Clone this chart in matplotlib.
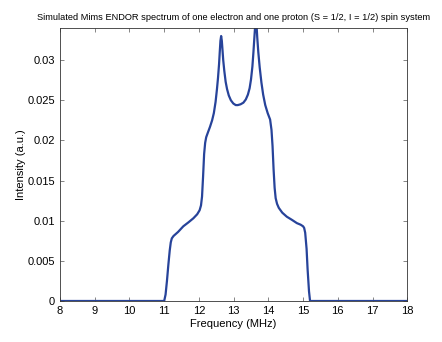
import matplotlib
matplotlib.use("Agg")
import matplotlib.pyplot as plt
from matplotlib.ticker import FuncFormatter

plt.rcParams['font.family'] = ['Liberation Sans', 'DejaVu Sans']

# Mims ENDOR powder spectrum, S = 1/2, I = 1/2 (frequency in MHz, intensity in a.u.)
freq = [8.0, 10.9, 11.0, 11.04, 11.08, 11.12, 11.16, 11.19, 11.22, 11.27, 11.4, 11.55,
        11.7, 11.84, 11.95, 12.02, 12.06, 12.09, 12.12, 12.15, 12.18, 12.21, 12.26,
        12.32, 12.38, 12.43, 12.48, 12.52, 12.55, 12.58, 12.6, 12.62, 12.64, 12.66,
        12.68, 12.7, 12.73, 12.77, 12.81, 12.86, 12.92, 12.99, 13.06, 13.12, 13.2,
        13.28, 13.35, 13.41, 13.46, 13.5, 13.54, 13.57, 13.6, 13.62, 13.64, 13.66,
        13.68, 13.71, 13.75, 13.8, 13.85, 13.91, 13.98, 14.05, 14.09, 14.12, 14.15,
        14.18, 14.21, 14.25, 14.3, 14.4, 14.53, 14.68, 14.82, 14.93, 15.0, 15.03,
        15.06, 15.1, 15.13, 15.17, 15.2, 15.25, 18.0]
intensity = [0.0, 0.0, 0.0, 0.0008, 0.0025, 0.0045, 0.0063, 0.0073, 0.0078, 0.0081,
             0.0086, 0.0093, 0.0098, 0.0103, 0.0108, 0.0113, 0.0119, 0.0130, 0.0155,
             0.0183, 0.0197, 0.0204, 0.0210, 0.0217, 0.0225, 0.0234, 0.0248, 0.0264,
             0.0278, 0.0295, 0.0310, 0.0324, 0.0330, 0.0324, 0.0312, 0.0300, 0.0287,
             0.0273, 0.0264, 0.0256, 0.0250, 0.0246, 0.0244, 0.0244, 0.0245, 0.0247,
             0.0251, 0.0257, 0.0265, 0.0276, 0.0292, 0.0310, 0.0330, 0.0343, 0.0350,
             0.0343, 0.0328, 0.0310, 0.0291, 0.0272, 0.0257, 0.0244, 0.0234, 0.0226,
             0.0213, 0.0193, 0.0164, 0.0141, 0.0128, 0.0121, 0.0116, 0.0110, 0.0105,
             0.0101, 0.0097, 0.0095, 0.0093, 0.0091, 0.0085, 0.0065, 0.0039, 0.0012,
             0.0, 0.0, 0.0]

fig = plt.figure(figsize=(4.42, 3.42), dpi=100)
ax = fig.add_axes([0.1357, 0.1199, 0.7858, 0.7982])

ax.plot(freq, intensity, color='#27439a', linewidth=1.6,
        solid_joinstyle='round', solid_capstyle='round')

ax.set_xlim(8, 18)
ax.set_ylim(0, 0.034)
ax.set_xticks(range(8, 19))
ax.set_yticks([0, 0.005, 0.01, 0.015, 0.02, 0.025, 0.03])
ax.yaxis.set_major_formatter(FuncFormatter(lambda v, p: '%g' % round(v, 4)))
ax.tick_params(direction='in', top=True, right=True, labelsize=8, length=3,
               width=0.5, colors='#555555', labelcolor='black')
for s in ax.spines.values():
    s.set_linewidth(0.6)
    s.set_color('#333333')

ax.set_xlabel('Frequency (MHz)', fontsize=8, labelpad=2)
ax.set_ylabel('Intensity (a.u.)', fontsize=8, labelpad=1)
ax.set_title('Simulated Mims ENDOR spectrum of one electron and one proton (S = 1/2, I = 1/2) spin system',
             fontsize=6.7, pad=6)

fig.savefig('out.png', dpi=100)
